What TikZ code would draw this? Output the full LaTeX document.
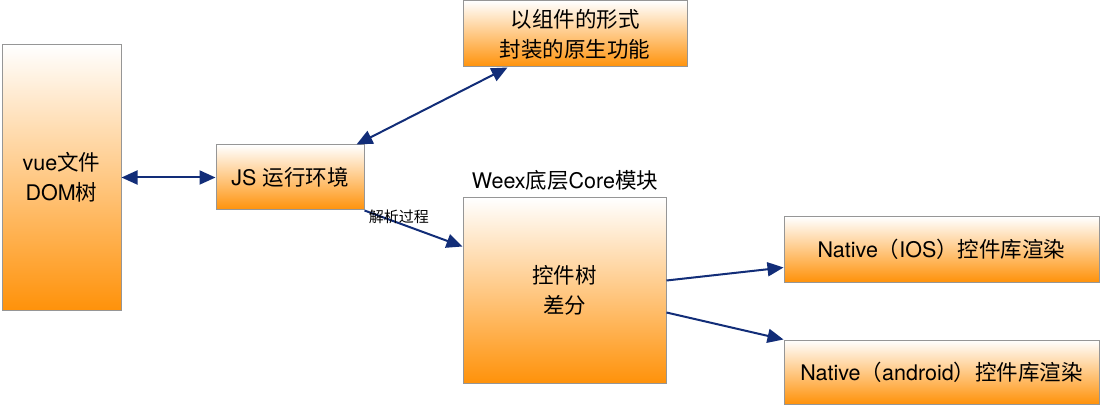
\documentclass[tikz,border=0pt]{standalone}
\usepackage{fontspec}
\setmainfont{TeX Gyre Heros}
\newfontfamily\cjk{Noto Sans CJK SC}
\usepackage{tikz}
\usetikzlibrary{arrows, arrows.meta, positioning, calc, shapes}
\definecolor{boxorange}{RGB}{255,146,10}
\definecolor{boxline}{RGB}{150,150,150}
\definecolor{arrowblue}{RGB}{18,45,120}

\begin{document}
\begin{tikzpicture}[x=1pt,y=-1pt,
  box/.style={rectangle, draw=boxline, line width=1pt, top color=white, bottom color=boxorange,
    inner sep=0pt, align=center, font=\fontsize{21.5}{30}\selectfont},
  link/.style={draw=arrowblue, line width=2pt, -{Triangle[length=16pt,width=14pt]}},
  dlink/.style={link, {Triangle[length=16pt,width=14pt]}-{Triangle[length=16pt,width=14pt]}}]
\useasboundingbox (0,0) rectangle (1100,406);
\node[box, minimum width=119pt, minimum height=265pt] (vue) at (61.5,177.5) {vue{\cjk 文件}\\DOM{\cjk 树}};
\node[box, minimum width=148pt, minimum height=65pt] (js) at (290,177.5) {JS {\cjk 运行环境}};
\node[box, minimum width=224pt, minimum height=66pt] (native) at (575,34) {{\cjk 以组件的形式}\\{\cjk 封装的原生功能}};
\node[box, minimum width=203pt, minimum height=185pt] (core) at (564.5,290.5) {{\cjk 控件树}\\{\cjk 差分}};
\node[font=\fontsize{21.5}{26}\selectfont] (coretitle) at (565,180) {Weex{\cjk 底层}Core{\cjk 模块}};
\node[box, minimum width=315pt, minimum height=65pt] (ios) at (941.5,249.5) {Native{\cjk （}IOS{\cjk ）控件库渲染}};
\node[box, minimum width=315pt, minimum height=64pt] (android) at (941.5,372) {Native{\cjk （}android{\cjk ）控件库渲染}};
\draw[dlink] (vue.east) -- (js.west);
\draw[dlink] ([xshift=-8pt]js.north east) -- ([xshift=45pt]native.south west);
\draw[link] (js.south east) -- node[pos=0.35, yshift=6pt, font=\fontsize{15}{18}\selectfont] (parse) {{\cjk 解析过程}} ([yshift=-49pt]core.north west);
\draw[link] ([yshift=10pt]core.east) -- ([yshift=-18pt]ios.west);
\draw[link] ([yshift=-22pt]core.east) -- (android.north west);
\end{tikzpicture}
\end{document}
